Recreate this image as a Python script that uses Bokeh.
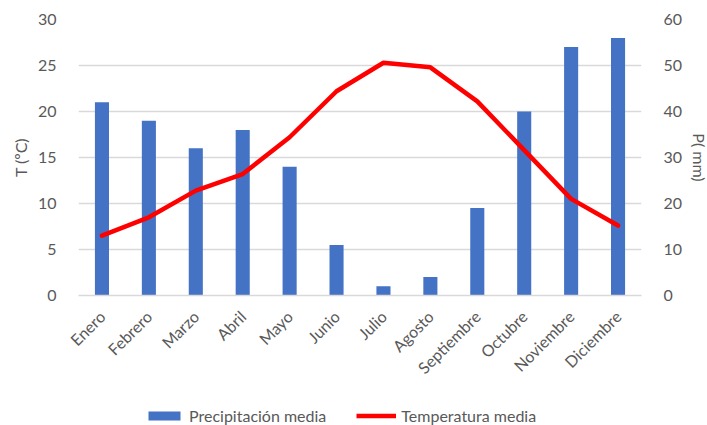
import math
from bokeh.plotting import figure
from bokeh.layouts import column
from bokeh.models import (ColumnDataSource, FactorRange, Range1d, LinearAxis,
                          Legend, LegendItem, FixedTicker)
from bokeh.embed import file_html
from bokeh.resources import INLINE

months = ["Enero", "Febrero", "Marzo", "Abril", "Mayo", "Junio", "Julio",
          "Agosto", "Septiembre", "Octubre", "Noviembre", "Diciembre"]
precip = [42, 38, 32, 36, 28, 11, 2, 4, 19, 40, 54, 56]
temp = [6.5, 8.5, 11.4, 13.2, 17.2, 22.2, 25.3, 24.8, 21.1, 15.8, 10.5, 7.6]

temp_ticks = [0, 5, 10, 15, 20, 25, 30]
precip_ticks = [0, 10, 20, 30, 40, 50, 60]

FONT = "Lato"
FS = "16px"
GREY = "#595959"
GRID = "#D9D9D9"
BAR_COLOR = "#4472C4"
LINE_COLOR = "#FF0000"

src = ColumnDataSource(dict(m=months, p=precip, t=temp))

p = figure(frame_width=563, frame_height=276,
           x_range=FactorRange(*months, range_padding=0),
           y_range=Range1d(0, 30), output_backend="svg", toolbar_location=None,
           min_border_left=78, min_border_right=64, min_border_top=19,
           min_border_bottom=0)
p.extra_y_ranges = {"p": Range1d(0, 60)}
p.outline_line_color = None
p.background_fill_color = "white"
p.border_fill_color = "white"

bars = p.vbar(x="m", top="p", width=0.3, source=src, y_range_name="p",
              fill_color=BAR_COLOR, line_color=None)
line = p.line(x="m", y="t", source=src, line_color=LINE_COLOR, line_width=4.5,
              line_join="round", line_cap="round")

# left axis
ya = p.yaxis[0]
ya.ticker = FixedTicker(ticks=temp_ticks)
ya.axis_label = "T (ºC)"
ya.axis_line_color = None
ya.major_tick_line_color = None
ya.minor_tick_line_color = None
ya.major_label_standoff = 16
ya.axis_label_standoff = 5
ya.major_label_text_font = FONT
ya.major_label_text_font_size = FS
ya.major_label_text_color = GREY
ya.axis_label_text_font = FONT
ya.axis_label_text_font_size = FS
ya.axis_label_text_font_style = "normal"
ya.axis_label_text_color = GREY

ra = LinearAxis(y_range_name="p", ticker=FixedTicker(ticks=precip_ticks),
                axis_label="P( mm)")
ra.axis_line_color = None
ra.major_tick_line_color = None
ra.minor_tick_line_color = None
ra.major_label_standoff = 16
ra.axis_label_standoff = 5
ra.major_label_text_font = FONT
ra.major_label_text_font_size = FS
ra.major_label_text_color = GREY
ra.axis_label_text_font = FONT
ra.axis_label_text_font_size = FS
ra.axis_label_text_font_style = "normal"
ra.axis_label_text_color = GREY
p.add_layout(ra, "right")

xa = p.xaxis[0]
xa.axis_line_color = GRID
xa.axis_line_width = 1.5
xa.major_tick_line_color = None
xa.minor_tick_line_color = None
xa.major_label_orientation = math.pi / 4
xa.major_label_standoff = 12
xa.major_label_text_font = FONT
xa.major_label_text_font_size = FS
xa.major_label_text_color = GREY

p.xgrid.grid_line_color = None
p.ygrid.grid_line_color = GRID
p.ygrid.grid_line_width = 1.5
p.ygrid.ticker = FixedTicker(ticks=temp_ticks)

# legend strip below the chart (same data, drawn out of view; only the legend shows)
lf = figure(width=700, height=42, x_range=FactorRange(*months),
            y_range=Range1d(100, 101), output_backend="svg",
            toolbar_location=None, x_axis_location=None, y_axis_location=None,
            min_border_left=0, min_border_right=0, min_border_top=0,
            min_border_bottom=0)
lf.grid.visible = False
lf.outline_line_color = None
lbar = lf.vbar(x="m", top="p", width=0.3, source=src,
               fill_color=BAR_COLOR, line_color=None)
lline = lf.line(x="m", y="t", source=src, line_color=LINE_COLOR, line_width=4.5)

legend = Legend(items=[LegendItem(label="Precipitación media", renderers=[lbar]),
                       LegendItem(label="Temperatura media", renderers=[lline])],
                orientation="horizontal", location=(66, 3),
                glyph_width=40, glyph_height=11, label_standoff=5, spacing=30,
                padding=0, margin=0, border_line_color=None,
                background_fill_alpha=0,
                label_text_font=FONT, label_text_font_size=FS,
                label_text_color=GREY)
lf.add_layout(legend, "center")

layout = column(p, lf, spacing=0)
open("out.html", "w").write(file_html(layout, INLINE))
